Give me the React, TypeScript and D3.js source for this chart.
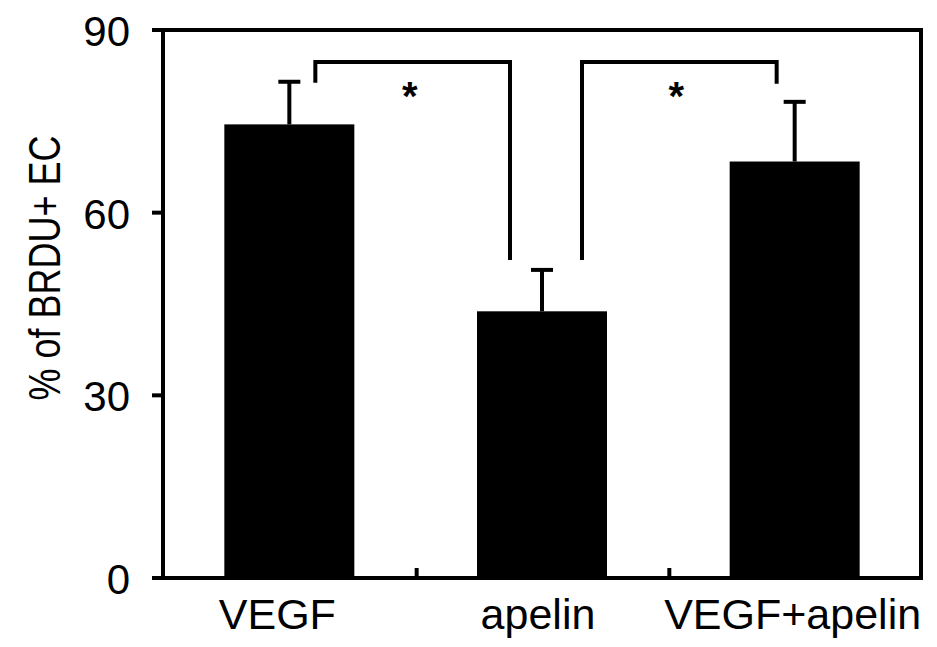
import React from "react";
import * as d3 from "d3";

const categories = ["VEGF", "apelin", "VEGF+apelin"];
const means = [74.5, 43.8, 68.4];
const errors = [7.0, 6.8, 9.8];
const yTicks = [0, 30, 60, 90];
const yLabel = "% of BRDU+ EC";
// significance brackets: [from index, to index, label]
const brackets: [number, number, string][] = [
  [0, 1, "*"],
  [1, 2, "*"],
];
const labelOffsets = [-12, -4, -2];

const W = 937;
const H = 647;
const m = { left: 163, right: 921, top: 30, bottom: 578 };

export default function App() {
  const x = d3
    .scalePoint<string>()
    .domain(categories)
    .range([m.left, m.right])
    .padding(0.5);
  const y = d3.scaleLinear().domain([0, 90]).range([m.bottom, m.top]);
  const barW = 130;
  const sw = 4;
  const font = "Liberation Sans, Arial, sans-serif";

  const mids = [
    (x(categories[0])! + x(categories[1])!) / 2,
    (x(categories[1])! + x(categories[2])!) / 2,
  ];

  const bracketY = 62;

  return (
    <svg
      width={W}
      height={H}
      style={{ position: "absolute", left: 0, top: 0, background: "#fff" }}
    >
      {/* frame */}
      <path
        d={`M${m.left},${m.bottom} L${m.left},${m.top} L${m.right},${m.top} L${m.right},${m.bottom}`}
        fill="none"
        stroke="#000"
        strokeWidth={sw}
      />
      {/* bars */}
      {categories.map((c, i) => (
        <rect
          key={c}
          x={x(c)! - barW / 2}
          y={y(means[i])}
          width={barW}
          height={y(0) - y(means[i])}
          fill="#000"
        />
      ))}
      {/* error bars */}
      {categories.map((c, i) => {
        const cx = x(c)!;
        const top = y(means[i] + errors[i]);
        return (
          <g key={c + "e"} stroke="#000" strokeWidth={sw}>
            <line x1={cx} x2={cx} y1={y(means[i])} y2={top} />
            <line x1={cx - 11} x2={cx + 11} y1={top} y2={top} />
          </g>
        );
      })}
      {/* baseline */}
      <line
        x1={m.left - 11}
        x2={m.right + 2}
        y1={m.bottom}
        y2={m.bottom}
        stroke="#000"
        strokeWidth={sw}
      />
      {/* x ticks between categories */}
      {mids.map((mx, i) => (
        <line
          key={"xt" + i}
          x1={mx + 1}
          x2={mx + 1}
          y1={m.bottom}
          y2={m.bottom - 10}
          stroke="#000"
          strokeWidth={sw}
        />
      ))}
      {/* y ticks */}
      {yTicks.map((t) => (
        <g key={"yt" + t}>
          <line
            x1={m.left - 11}
            x2={m.left}
            y1={y(t)}
            y2={y(t)}
            stroke="#000"
            strokeWidth={sw}
          />
          <text
            x={130}
            y={y(t)}
            dy="0.38em"
            textAnchor="end"
            fontFamily={font}
            fontSize={42}
            fill="#000"
          >
            {t}
          </text>
        </g>
      ))}
      {/* y label */}
      <text
        transform={`translate(60,268) rotate(-90) scale(1,1.22)`}
        textAnchor="middle"
        fontFamily={font}
        fontSize={36}
        fill="#000"
      >
        {yLabel}
      </text>
      {/* x labels */}
      {categories.map((c, i) => (
        <text
          key={c + "l"}
          x={x(c)! + labelOffsets[i]}
          y={629}
          textAnchor="middle"
          fontFamily={font}
          fontSize={43}
          fill="#000"
        >
          {c}
        </text>
      ))}
      {/* brackets */}
      {brackets.map(([a, b, lab], i) => {
        const ia = a;
        const ib = b;
        const xa = x(categories[ia])! + 26;
        const xb = x(categories[ib])! - 32;
        const ya = y(means[ia] + errors[ia]) + (ia === 1 ? -10 : 1);
        const yb = y(means[ib] + errors[ib]) + (ib === 1 ? -10 : -18);
        const xa2 = ia === 1 ? x(categories[ia])! + 40 : xa;
        const xb2 = ib === 2 ? x(categories[ib])! - 18 : xb;
        return (
          <g key={"br" + i}>
            <path
              d={`M${xa2},${ya} L${xa2},${bracketY} L${xb2},${bracketY} L${xb2},${yb}`}
              fill="none"
              stroke="#000"
              strokeWidth={sw}
            />
            <text
              x={(xa2 + xb2) / 2 - 3}
              y={110}
              textAnchor="middle"
              fontFamily={font}
              fontSize={40}
              fontWeight="bold"
              fill="#000"
            >
              {lab}
            </text>
          </g>
        );
      })}
    </svg>
  );
}
